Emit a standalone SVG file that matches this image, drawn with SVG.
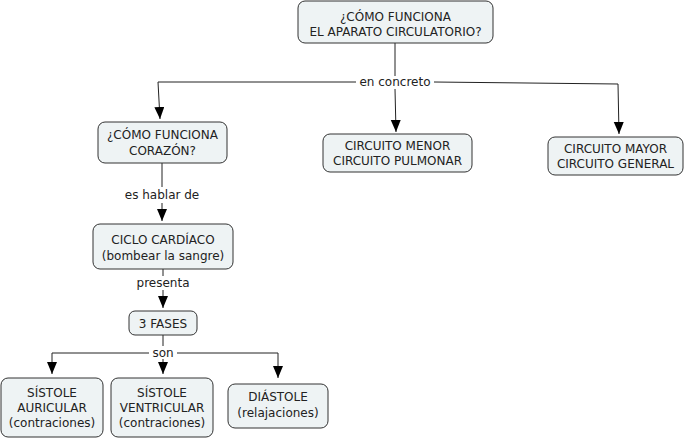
<svg xmlns="http://www.w3.org/2000/svg" width="687" height="439" viewBox="0 0 687 439">
<defs>
<marker id="arr" markerUnits="userSpaceOnUse" markerWidth="12" markerHeight="12" refX="12" refY="5" orient="auto">
<path d="M0,0 L12,5 L0,10 Z" fill="#000"/>
</marker>
<style>
.node rect{fill:#eef3f4;stroke:#333;stroke-width:1}
text{font-family:"DejaVu Sans","Verdana",sans-serif;font-size:12px;fill:#222;text-anchor:middle}
.conn path{fill:none;stroke:#222;stroke-width:1}
</style>
</defs>
<rect width="687" height="439" fill="#fff"/>
<g id="connectors" class="conn">
<path d="M395,43 L395,76"/>
<path d="M356,82 L158,82 L160,119" marker-end="url(#arr)"/>
<path d="M395,89 L396,132" marker-end="url(#arr)"/>
<path d="M434,82 L618,84 L619,134" marker-end="url(#arr)"/>
<path d="M162,163 L162,187"/>
<path d="M162,203 L162,221" marker-end="url(#arr)"/>
<path d="M163,269 L163,276"/>
<path d="M163,290 L163,308" marker-end="url(#arr)"/>
<path d="M163,335 L163,346"/>
<path d="M149,353 L52,353 L52,374" marker-end="url(#arr)"/>
<path d="M163,359 L163,374" marker-end="url(#arr)"/>
<path d="M177,353 L278,353 L278,378" marker-end="url(#arr)"/>
</g>
<g id="labels">
<text x="395" y="86">en concreto</text>
<text x="162" y="199">es hablar de</text>
<text x="163" y="287">presenta</text>
<text x="163" y="357">son</text>
</g>
<g id="n1" class="node"><rect x="298" y="1" width="195" height="42" rx="7"/><text x="395.5" y="21">¿CÓMO FUNCIONA</text><text x="395.5" y="36">EL APARATO CIRCULATORIO?</text></g>
<g id="n2" class="node"><rect x="98" y="122" width="129" height="41" rx="7"/><text x="162.5" y="139">¿CÓMO FUNCIONA</text><text x="162.5" y="155">CORAZÓN?</text></g>
<g id="n3" class="node"><rect x="323" y="134" width="149" height="38" rx="7"/><text x="397.5" y="150">CIRCUITO MENOR</text><text x="397.5" y="165">CIRCUITO PULMONAR</text></g>
<g id="n4" class="node"><rect x="548" y="137" width="135" height="38" rx="7"/><text x="615.5" y="153">CIRCUITO MAYOR</text><text x="615.5" y="168">CIRCUITO GENERAL</text></g>
<g id="n5" class="node"><rect x="93" y="224" width="140" height="45" rx="7"/><text x="163" y="244">CICLO CARDÍACO</text><text x="163" y="260">(bombear la sangre)</text></g>
<g id="n6" class="node"><rect x="129" y="311" width="68" height="24" rx="6"/><text x="163" y="328">3 FASES</text></g>
<g id="n7" class="node"><rect x="1" y="378" width="102" height="59" rx="7"/><text x="52" y="397">SÍSTOLE</text><text x="52" y="412">AURICULAR</text><text x="52" y="427">(contraciones)</text></g>
<g id="n8" class="node"><rect x="111" y="378" width="102" height="59" rx="7"/><text x="162" y="397">SÍSTOLE</text><text x="162" y="412">VENTRICULAR</text><text x="162" y="427">(contraciones)</text></g>
<g id="n9" class="node"><rect x="228" y="384" width="100" height="44" rx="7"/><text x="278" y="401">DIÁSTOLE</text><text x="278" y="417">(relajaciones)</text></g>
</svg>
